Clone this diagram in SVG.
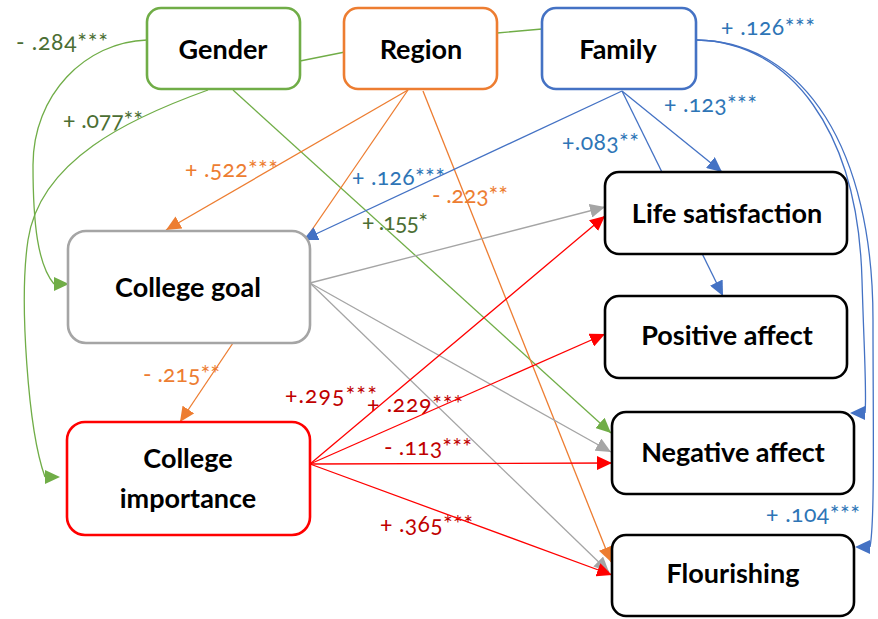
<svg xmlns="http://www.w3.org/2000/svg" width="878" height="619" viewBox="0 0 878 619">
<style>
  .node rect { fill: #ffffff; stroke-width: 2.6; }
  .node text { font-family: Lato, "Liberation Sans", sans-serif; font-weight: bold; font-size: 27px; fill: #000; text-anchor: middle; }
  .lbl { font-family: Lato, "Liberation Sans", sans-serif; font-size: 23px; font-variant-numeric: oldstyle-nums; }
  .conn path { fill: none; stroke-width: 1.3; }
  .g { stroke: #70AD47; } .o { stroke: #ED7D31; } .b { stroke: #4472C4; } .gr { stroke: #A5A5A5; } .r { stroke: #FF0000; }
  .lg { fill: #4B6E33; } .lo { fill: #ED7D31; } .lb { fill: #2E75B6; } .lr { fill: #C00000; }
</style>
<defs>
  <marker id="aG" markerUnits="userSpaceOnUse" markerWidth="15" markerHeight="14" viewBox="0 0 15 14" refX="15" refY="7" orient="auto"><path d="M0,0 L15,7 L0,14 z" fill="#70AD47"/></marker>
  <marker id="aG0" markerUnits="userSpaceOnUse" markerWidth="15" markerHeight="14" viewBox="0 0 15 14" refX="0" refY="7" orient="0"><path d="M0,0 L15,7 L0,14 z" fill="#70AD47"/></marker>
  <marker id="aO" markerUnits="userSpaceOnUse" markerWidth="15" markerHeight="14" viewBox="0 0 15 14" refX="15" refY="7" orient="auto"><path d="M0,0 L15,7 L0,14 z" fill="#ED7D31"/></marker>
  <marker id="aB" markerUnits="userSpaceOnUse" markerWidth="15" markerHeight="14" viewBox="0 0 15 14" refX="15" refY="7" orient="auto"><path d="M0,0 L15,7 L0,14 z" fill="#4472C4"/></marker>
  <marker id="aB180" markerUnits="userSpaceOnUse" markerWidth="15" markerHeight="14" viewBox="0 0 15 14" refX="0" refY="7" orient="180"><path d="M0,0 L15,7 L0,14 z" fill="#4472C4"/></marker>
  <marker id="aGr" markerUnits="userSpaceOnUse" markerWidth="15" markerHeight="14" viewBox="0 0 15 14" refX="15" refY="7" orient="auto"><path d="M0,0 L15,7 L0,14 z" fill="#A5A5A5"/></marker>
  <marker id="aR" markerUnits="userSpaceOnUse" markerWidth="15" markerHeight="14" viewBox="0 0 15 14" refX="15" refY="7" orient="auto"><path d="M0,0 L15,7 L0,14 z" fill="#FF0000"/></marker>
</defs>
<rect width="878" height="619" fill="#ffffff"/>

<g id="edge-labels" class="lbl">
  <text class="lg" x="16" y="50" textLength="92">- .284***</text>
  <text class="lg" x="63" y="128" textLength="80">+ .077**</text>
  <text class="lg" x="362" y="230" textLength="66">+ .155*</text>
  <text class="lo" x="185" y="177" textLength="93">+ .522***</text>
  <text class="lo" x="432" y="203" textLength="76">- .223**</text>
  <text class="lo" x="143" y="382" textLength="77">- .215**</text>
  <text class="lb" x="352" y="185" textLength="93">+ .126***</text>
  <text class="lb" x="721" y="35" textLength="94">+ .126***</text>
  <text class="lb" x="664" y="112" textLength="93">+ .123***</text>
  <text class="lb" x="562" y="150" textLength="77">+.083**</text>
  <text class="lb" x="766" y="522" textLength="94">+ .104***</text>
  <text class="lr" x="285" y="403" textLength="92">+.295***</text>
  <text class="lr" x="367" y="412" textLength="96">+ .229***</text>
  <text class="lr" x="384" y="455" textLength="88">- .113***</text>
  <text class="lr" x="380" y="532" textLength="93">+ .365***</text>
</g>

<g id="connectors" class="conn">
  <path class="g" d="M300,61 L345,52"/>
  <path class="g" d="M497,33 L542,29"/>
  <path class="g" d="M147,40 C85,42 33,95 33,165 C33,225 38,265 54,284" marker-end="url(#aG0)"/>
  <path class="g" d="M208,90 C130,118 40,160 28,240 C19,300 28,430 45,477" marker-end="url(#aG0)"/>
  <path class="g" d="M233,90 L611,433" marker-end="url(#aG)"/>
  <path class="o" d="M408,90 L166,230" marker-end="url(#aO)"/>
  <path class="o" d="M408,90 L305,240"/>
  <path class="o" d="M423,91 L611,562" marker-end="url(#aO)"/>
  <path class="o" d="M233,343 L180,422" marker-end="url(#aO)"/>
  <path class="b" d="M622,91 L303,240" marker-end="url(#aB)"/>
  <path class="b" d="M622,91 L722,172" marker-end="url(#aB)"/>
  <path class="b" d="M622,91 L723,296" marker-end="url(#aB)"/>
  <path class="b" d="M697,40 C790,42 858,130 862,280 C864,350 867,395 865,413" marker-end="url(#aB180)"/>
  <path class="b" d="M697,40 C805,42 873,150 873,320 C873,420 875,520 870,547" marker-end="url(#aB180)"/>
  <path class="gr" d="M310,283 L605,207" marker-end="url(#aGr)"/>
  <path class="gr" d="M310,283 L611,452" marker-end="url(#aGr)"/>
  <path class="gr" d="M310,283 L609,572" marker-end="url(#aGr)"/>
  <path class="r" d="M310,464 L605,216" marker-end="url(#aR)"/>
  <path class="r" d="M310,464 L605,334" marker-end="url(#aR)"/>
  <path class="r" d="M310,464 L612,463" marker-end="url(#aR)"/>
  <path class="r" d="M310,464 L612,575" marker-end="url(#aR)"/>
</g>

<g id="node-gender" class="node"><rect x="147" y="8" width="153" height="81" rx="14" stroke="#70AD47"/><text x="223" y="59">Gender</text></g>
<g id="node-region" class="node"><rect x="344" y="8" width="153" height="81" rx="14" stroke="#ED7D31"/><text x="421" y="59">Region</text></g>
<g id="node-family" class="node"><rect x="542" y="8" width="154" height="81" rx="14" stroke="#4472C4"/><text x="618" y="59">Family</text></g>
<g id="node-college-goal" class="node"><rect x="68" y="231" width="242" height="112" rx="18" stroke="#A5A5A5"/><text x="188" y="297">College goal</text></g>
<g id="node-college-importance" class="node"><rect x="67" y="422" width="243" height="113" rx="18" stroke="#FF0000"/><text x="188" y="468">College</text><text x="188" y="508">importance</text></g>
<g id="node-life-satisfaction" class="node"><rect x="605" y="172" width="242" height="82" rx="14" stroke="#000000"/><text x="727" y="223">Life satisfaction</text></g>
<g id="node-positive-affect" class="node"><rect x="605" y="296" width="242" height="82" rx="14" stroke="#000000"/><text x="727" y="345">Positive affect</text></g>
<g id="node-negative-affect" class="node"><rect x="612" y="412" width="242" height="82" rx="14" stroke="#000000"/><text x="733" y="462">Negative affect</text></g>
<g id="node-flourishing" class="node"><rect x="612" y="535" width="242" height="81" rx="14" stroke="#000000"/><text x="733" y="583">Flourishing</text></g>
</svg>
